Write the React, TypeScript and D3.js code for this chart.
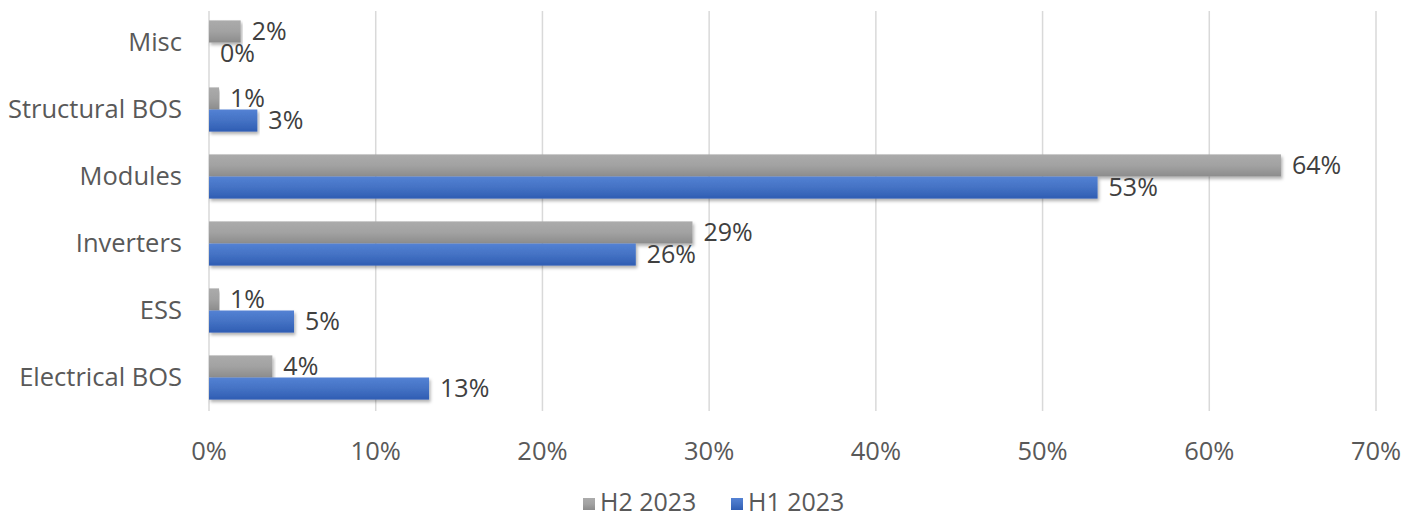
import React from "react";
import * as d3 from "d3";

const categories = ["Misc", "Structural BOS", "Modules", "Inverters", "ESS", "Electrical BOS"];
const seriesNames = ["H2 2023", "H1 2023"];
const h2Values = [1.9, 0.6, 64.3, 29.0, 0.6, 3.8];
const h1Values = [0, 2.9, 53.3, 25.6, 5.1, 13.2];
const labelsH2 = ["2%", "1%", "64%", "29%", "1%", "4%"];
const labelsH1 = ["0%", "3%", "53%", "26%", "5%", "13%"];
const xTicks = [0, 10, 20, 30, 40, 50, 60, 70];

const W = 1415;
const H = 517;
const FONT = "'Open Sans', sans-serif";

export default function App() {
  const x = d3.scaleLinear().domain([0, 70]).range([209, 1376]);
  const y = d3.scaleBand<string>().domain(categories).range([9, 411]).paddingInner(0.34).paddingOuter(0.17);
  const sub = d3.scaleBand<string>().domain(seriesNames).range([0, y.bandwidth()]);
  const fills = ["url(#gGray)", "url(#gBlue)"];
  const series = [h2Values, h1Values];
  const labels = [labelsH2, labelsH1];

  return (
    <svg width={W} height={H} style={{ position: "absolute", left: 0, top: 0, background: "#fff" }}>
      <defs>
        <linearGradient id="gGray" x1="0" y1="0" x2="0" y2="1">
          <stop offset="0" stopColor="#ababab" />
          <stop offset="0.5" stopColor="#a2a2a2" />
          <stop offset="1" stopColor="#8c8c8c" />
        </linearGradient>
        <linearGradient id="gBlue" x1="0" y1="0" x2="0" y2="1">
          <stop offset="0" stopColor="#5482d4" />
          <stop offset="0.5" stopColor="#4472c4" />
          <stop offset="1" stopColor="#2f5db3" />
        </linearGradient>
        <filter id="shadow" x="-5%" y="-20%" width="110%" height="160%">
          <feDropShadow dx="1.5" dy="2.5" stdDeviation="1.5" floodColor="#000" floodOpacity="0.3" />
        </filter>
      </defs>
      {xTicks.map((t) => (
        <line key={t} x1={x(t)} x2={x(t)} y1={11} y2={411} stroke="#d9d9d9" strokeWidth={1.5} />
      ))}
      {categories.map((c, i) => (
        <g key={c}>
          {series.map((vals, s) => {
            const yy = (y(c) as number) + (sub(seriesNames[s]) as number);
            const w = x(vals[i]) - x(0);
            return (
              <g key={s}>
                {w > 0 && (
                  <rect x={x(0)} y={yy} width={w} height={sub.bandwidth()} fill={fills[s]} filter="url(#shadow)" />
                )}
                <text
                  x={x(vals[i]) + 11}
                  y={yy + sub.bandwidth() / 2}
                  dy="0.35em"
                  fontFamily={FONT}
                  fontSize={25}
                  fill="#404040"
                >
                  {labels[s][i]}
                </text>
              </g>
            );
          })}
          <text
            x={182}
            y={(y(c) as number) + y.bandwidth() / 2}
            dy="0.35em"
            textAnchor="end"
            fontFamily={FONT}
            fontSize={25.5}
            fill="#595959"
          >
            {c}
          </text>
        </g>
      ))}
      {xTicks.map((t) => (
        <text key={t} x={x(t)} y={451} dy="0.35em" textAnchor="middle" fontFamily={FONT} fontSize={25.5} fill="#595959">
          {t + "%"}
        </text>
      ))}
      {seriesNames.map((n, i) => {
        const lx = [583, 731][i];
        return (
          <g key={n}>
            <rect x={lx} y={498} width={12} height={12} fill={fills[i]} />
            <text x={lx + 17} y={502} dy="0.35em" fontFamily={FONT} fontSize={25} fill="#595959">
              {n}
            </text>
          </g>
        );
      })}
    </svg>
  );
}
